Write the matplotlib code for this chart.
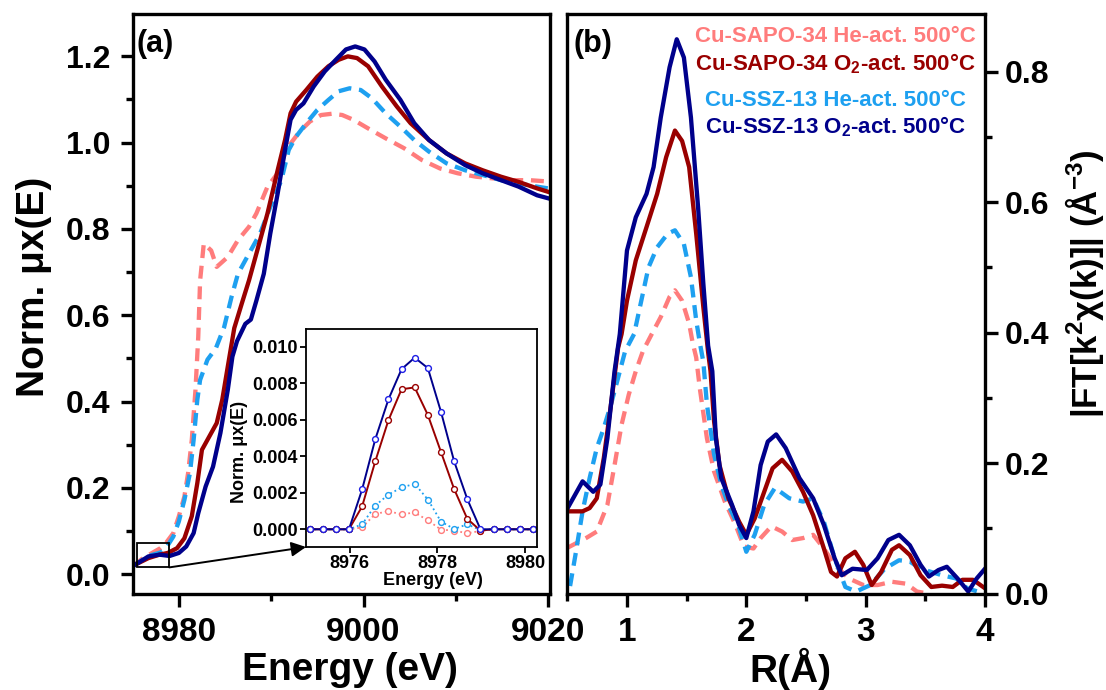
import matplotlib
matplotlib.use("Agg")
import matplotlib.pyplot as plt
from matplotlib.patches import Rectangle
from matplotlib.ticker import MultipleLocator, FormatStrFormatter

plt.rcParams['font.family'] = ['Liberation Sans', 'DejaVu Sans']
plt.rcParams['font.weight'] = 'bold'
plt.rcParams['axes.labelweight'] = 'bold'
plt.rcParams['mathtext.fontset'] = 'custom'
plt.rcParams['mathtext.rm'] = 'Liberation Sans:bold'
plt.rcParams['mathtext.bf'] = 'Liberation Sans:bold'
plt.rcParams['mathtext.default'] = 'rm'

# colours of the four samples
c_sapo_he = '#FF7C7C'
c_sapo_o2 = '#990000'
c_ssz_he = '#1EA0F0'
c_ssz_o2 = '#00008B'

labels = ['Cu-SAPO-34 He-act. 500°C', 'Cu-SAPO-34 O$_2$-act. 500°C',
          'Cu-SSZ-13 He-act. 500°C', 'Cu-SSZ-13 O$_2$-act. 500°C']

# ---- (a) XANES ----
e_sapo_he = [8975.0, 8976.0, 8977.1, 8978.0, 8978.6, 8979.4, 8980.0, 8980.6, 8981.0, 8981.4,
             8981.8, 8982.1, 8982.3, 8982.7, 8983.5, 8984.1, 8985.3, 8986.4, 8987.6, 8988.4,
             8989.6, 8990.7, 8991.5, 8992.1, 8993.1, 8994.2, 8995.4, 8996.6, 8997.7, 8998.9,
             9000.5, 9002.4, 9004.4, 9006.3, 9008.3, 9010.2, 9012.2, 9014.1, 9016.1, 9018.0, 9020.0]
mu_sapo_he = [0.018, 0.035, 0.049, 0.060, 0.072, 0.095, 0.134, 0.180, 0.234, 0.311,
              0.427, 0.550, 0.680, 0.766, 0.750, 0.712, 0.735, 0.774, 0.805, 0.836,
              0.898, 0.929, 0.975, 0.998, 1.026, 1.049, 1.064, 1.067, 1.064, 1.053,
              1.033, 1.010, 0.987, 0.960, 0.940, 0.929, 0.921, 0.917, 0.913, 0.913, 0.910]

e_ssz_he = [8975.0, 8976.0, 8977.0, 8978.0, 8978.6, 8979.4, 8980.0, 8980.6, 8981.2, 8981.6,
            8982.0, 8982.3, 8983.1, 8984.0, 8984.9, 8985.7, 8986.4, 8987.6, 8988.8, 8989.9,
            8991.1, 8991.9, 8992.7, 8993.8, 8995.0, 8996.2, 8997.3, 8998.5, 8999.7, 9000.9,
            9002.4, 9004.0, 9005.5, 9007.1, 9009.0, 9011.0, 9012.9, 9014.9, 9016.8, 9018.8, 9020.0]
mu_ssz_he = [0.018, 0.032, 0.044, 0.050, 0.060, 0.087, 0.122, 0.172, 0.234, 0.311,
             0.404, 0.450, 0.497, 0.523, 0.572, 0.642, 0.696, 0.743, 0.789, 0.851,
             0.913, 0.983, 1.014, 1.045, 1.076, 1.099, 1.119, 1.126, 1.122, 1.103,
             1.068, 1.037, 1.006, 0.979, 0.952, 0.936, 0.925, 0.913, 0.905, 0.898, 0.894]

e_sapo_o2 = [8975.0, 8976.7, 8977.9, 8978.8, 8979.8, 8980.6, 8981.4, 8982.0, 8982.5, 8983.3,
             8984.1, 8984.7, 8985.3, 8986.0, 8986.8, 8987.6, 8988.4, 8989.6, 8990.7, 8991.5,
             8992.1, 8992.7, 8993.8, 8995.0, 8996.2, 8997.3, 8998.3, 8999.3, 9000.5, 9002.0,
             9003.6, 9005.1, 9007.1, 9009.0, 9011.0, 9012.9, 9014.9, 9016.8, 9018.8, 9020.0]
mu_sapo_o2 = [0.019, 0.037, 0.045, 0.049, 0.060, 0.083, 0.134, 0.211, 0.288, 0.319,
              0.350, 0.404, 0.481, 0.570, 0.626, 0.681, 0.743, 0.836, 0.936, 1.006,
              1.068, 1.095, 1.122, 1.153, 1.177, 1.192, 1.200, 1.196, 1.177, 1.130,
              1.084, 1.045, 1.006, 0.975, 0.952, 0.936, 0.921, 0.909, 0.894, 0.886]

e_ssz_o2 = [8975.0, 8976.7, 8977.9, 8979.0, 8980.0, 8980.8, 8981.6, 8982.1, 8982.9, 8983.7,
            8984.5, 8985.3, 8985.8, 8986.3, 8987.2, 8987.8, 8988.4, 8989.2, 8989.9, 8990.7,
            8991.5, 8992.1, 8992.7, 8993.5, 8994.6, 8995.8, 8997.0, 8998.1, 8999.1, 9000.1,
            9001.2, 9002.4, 9004.0, 9005.5, 9007.1, 9009.0, 9011.0, 9012.9, 9014.9, 9016.8,
            9018.8, 9020.0]
mu_ssz_o2 = [0.018, 0.041, 0.045, 0.042, 0.049, 0.064, 0.095, 0.141, 0.203, 0.249,
             0.327, 0.427, 0.504, 0.540, 0.580, 0.590, 0.634, 0.696, 0.789, 0.882,
             0.983, 1.053, 1.076, 1.091, 1.130, 1.165, 1.192, 1.216, 1.223, 1.216,
             1.188, 1.146, 1.099, 1.045, 1.006, 0.975, 0.948, 0.929, 0.913, 0.898,
             0.878, 0.871]

# ---- inset: pre-edge region ----
e_pre = [8975.08, 8975.38, 8975.68, 8975.98, 8976.28, 8976.58, 8976.88, 8977.18, 8977.48,
         8977.78, 8978.08, 8978.38, 8978.68, 8978.98, 8979.28, 8979.58, 8979.88, 8980.18]
pre_sapo_he = [0, 0, 0, 0, 0.00010, 0.00084, 0.00099, 0.00082, 0.00092,
               0.00049, -0.00002, -0.00007, -0.00022, -0.00009, 0, 0, 0, 0]
pre_ssz_he = [0, 0, 0, 0, 0.00027, 0.00130, 0.00190, 0.00229, 0.00249,
              0.00163, 0.00042, 0.00002, 0.00027, -0.00004, 0, 0, 0, 0]
pre_sapo_o2 = [0, 0, 0, 0, 0.00125, 0.00372, 0.00597, 0.00767, 0.00777,
               0.00626, 0.00423, 0.00220, 0.00057, -0.00007, 0, 0, 0, 0]
pre_ssz_o2 = [0, 0, 0, 0, 0.00218, 0.00493, 0.00711, 0.00877, 0.00940,
              0.00883, 0.00643, 0.00372, 0.00165, 0, 0, 0, 0, 0]

# ---- (b) FT-EXAFS ----
r_sapo_he = [0.50, 0.657, 0.747, 0.836, 0.896, 0.955, 1.015, 1.074, 1.134, 1.208,
             1.283, 1.357, 1.402, 1.462, 1.521, 1.55, 1.58, 1.61, 1.67, 1.73,
             1.82, 1.91, 1.98, 2.06, 2.12, 2.21, 2.30, 2.385, 2.475, 2.56,
             2.65, 2.74, 2.86, 2.98, 3.10, 3.22, 3.34, 3.43, 3.52, 3.60]
ft_sapo_he = [0.070, 0.085, 0.095, 0.136, 0.197, 0.259, 0.305, 0.341, 0.372, 0.398,
              0.424, 0.455, 0.465, 0.449, 0.414, 0.385, 0.362, 0.315, 0.238, 0.187,
              0.141, 0.105, 0.072, 0.069, 0.085, 0.103, 0.095, 0.082, 0.085, 0.090,
              0.069, 0.044, 0.023, 0.013, 0.013, 0.018, 0.015, 0.003, 0.0, -0.010]

r_ssz_he = [0.50, 0.52, 0.568, 0.628, 0.687, 0.747, 0.806, 0.866, 0.926, 0.985,
            1.06, 1.12, 1.18, 1.253, 1.342, 1.402, 1.477, 1.536, 1.58, 1.61,
            1.64, 1.67, 1.73, 1.79, 1.85, 1.94, 2.0, 2.07, 2.15, 2.24,
            2.36, 2.475, 2.56, 2.65, 2.74, 2.83, 2.92, 3.04, 3.16, 3.28,
            3.37, 3.46, 3.55, 3.64, 3.76, 3.85, 3.94, 4.0]
ft_ssz_he = [-0.020, 0.008, 0.059, 0.126, 0.177, 0.223, 0.254, 0.290, 0.331, 0.372,
             0.398, 0.449, 0.500, 0.531, 0.552, 0.557, 0.536, 0.485, 0.419, 0.385,
             0.355, 0.290, 0.213, 0.167, 0.136, 0.100, 0.064, 0.090, 0.136, 0.162,
             0.146, 0.141, 0.146, 0.110, 0.054, 0.010, 0.003, 0.013, 0.038, 0.051,
             0.049, 0.038, 0.033, 0.028, 0.023, 0.008, 0.003, 0.005]

r_sapo_o2 = [0.50, 0.628, 0.687, 0.747, 0.806, 0.866, 0.926, 0.955, 1.0, 1.074,
             1.164, 1.253, 1.328, 1.402, 1.462, 1.521, 1.58, 1.64, 1.68, 1.70,
             1.73, 1.775, 1.85, 1.94, 2.0, 2.07, 2.15, 2.22, 2.30, 2.385,
             2.475, 2.56, 2.65, 2.71, 2.76, 2.83, 2.91, 2.98, 3.05, 3.13,
             3.22, 3.28, 3.37, 3.46, 3.55, 3.64, 3.73, 3.81, 3.90, 4.0]
ft_sapo_o2 = [0.126, 0.126, 0.131, 0.146, 0.208, 0.290, 0.377, 0.398, 0.449, 0.511,
              0.562, 0.613, 0.669, 0.710, 0.694, 0.654, 0.552, 0.439, 0.370, 0.341,
              0.264, 0.197, 0.146, 0.110, 0.090, 0.115, 0.156, 0.192, 0.205, 0.187,
              0.156, 0.120, 0.069, 0.033, 0.026, 0.054, 0.064, 0.044, 0.013, 0.033,
              0.067, 0.074, 0.059, 0.028, 0.010, 0.012, 0.010, 0.021, 0.021, 0.008]

r_ssz_o2 = [0.50, 0.628, 0.717, 0.777, 0.836, 0.896, 0.94, 1.0, 1.074, 1.164,
            1.223, 1.283, 1.357, 1.417, 1.477, 1.536, 1.596, 1.64, 1.68, 1.715,
            1.745, 1.79, 1.88, 1.94, 2.0, 2.06, 2.12, 2.18, 2.25, 2.33,
            2.445, 2.56, 2.65, 2.74, 2.80, 2.89, 3.01, 3.10, 3.19, 3.28,
            3.37, 3.46, 3.53, 3.61, 3.68, 3.77, 3.86, 3.93, 4.0]
ft_ssz_o2 = [0.130, 0.172, 0.156, 0.167, 0.238, 0.341, 0.398, 0.526, 0.577, 0.613,
             0.654, 0.730, 0.807, 0.850, 0.822, 0.730, 0.592, 0.475, 0.380, 0.341,
             0.238, 0.177, 0.136, 0.105, 0.085, 0.126, 0.197, 0.233, 0.244, 0.223,
             0.177, 0.146, 0.105, 0.054, 0.028, 0.038, 0.036, 0.054, 0.082, 0.090,
             0.074, 0.044, 0.026, 0.036, 0.041, 0.023, 0.003, 0.023, 0.038]

W, H = 1106, 690
fig = plt.figure(figsize=(W / 100, H / 100), dpi=100)

def frac(x0, y0, x1, y1):
    # pixel box -> figure fraction
    return [x0 / W, 1 - y1 / H, (x1 - x0) / W, (y1 - y0) / H]

axa = fig.add_axes(frac(132.7, 14.5, 550, 593.5))
axb = fig.add_axes(frac(567.3, 14.5, 985, 593.5))
axi = fig.add_axes(frac(306, 329, 537, 547))

dash = (0, (3, 1.8))
lw = 3.1

def style(ax, labelsize):
    for s in ax.spines.values():
        s.set_linewidth(2.4)
    ax.tick_params(which='major', direction='out', length=9, width=2.4, labelsize=labelsize)
    ax.tick_params(which='minor', direction='out', length=5, width=2.4)

# ---------- panel (a) ----------
axa.plot(e_sapo_he, mu_sapo_he, color=c_sapo_he, lw=lw, ls=dash)
axa.plot(e_ssz_he, mu_ssz_he, color=c_ssz_he, lw=lw, ls=dash)
axa.plot(e_sapo_o2, mu_sapo_o2, color=c_sapo_o2, lw=lw)
axa.plot(e_ssz_o2, mu_ssz_o2, color=c_ssz_o2, lw=lw)
axa.set_xlim(8975, 9020.2)
axa.set_ylim(-0.045, 1.297)
axa.xaxis.set_major_locator(MultipleLocator(20))
axa.xaxis.set_minor_locator(MultipleLocator(10))
axa.yaxis.set_major_locator(MultipleLocator(0.2))
axa.yaxis.set_minor_locator(MultipleLocator(0.1))
axa.yaxis.set_major_formatter(FormatStrFormatter('%.1f'))
style(axa, 23)
axa.tick_params(axis='x', labelsize=24, pad=8)
axa.tick_params(axis='y', pad=7)
axa.text(0.01, 0.975, '(a)', transform=axa.transAxes, fontsize=22, va='top', ha='left')

axa.add_patch(Rectangle((8975.43, 0.0155), 3.53, 0.057, fill=False, ec='black', lw=1.3, zorder=5))
axa.annotate('', xy=(0, 0), xycoords=axi.transAxes, xytext=(8978.96, 0.0155), textcoords='data',
             arrowprops=dict(arrowstyle='-|>', color='black', lw=1.4, mutation_scale=22,
                             shrinkA=0, shrinkB=0), zorder=6)

fig.text(34 / W, 1 - 287 / H, 'Norm. μx(E)', rotation=90, fontsize=28, ha='center', va='center')
fig.text(350 / W, 1 - 680 / H, 'Energy (eV)', fontsize=28, ha='center', va='baseline')

# ---------- inset ----------
axi.plot(e_pre, pre_sapo_he, color=c_sapo_he, lw=1.3, ls=':', marker='o', ms=4.2, mfc='white', mew=1)
axi.plot(e_pre, pre_ssz_he, color=c_ssz_he, lw=1.3, ls=':', marker='o', ms=4.2, mfc='white', mew=1)
axi.plot(e_pre, pre_sapo_o2, color=c_sapo_o2, lw=1.4, marker='o', ms=4.2, mfc='white', mew=1)
axi.plot(e_pre, pre_ssz_o2, color=c_ssz_o2, lw=1.4, marker='o', ms=4.2, mfc='white', mew=1,
         mec='#1E1EE6')
axi.set_xlim(8975.0, 8980.27)
axi.set_ylim(-0.00097, 0.01097)
axi.xaxis.set_major_locator(MultipleLocator(2))
axi.yaxis.set_major_locator(MultipleLocator(0.002))
axi.yaxis.set_major_formatter(FormatStrFormatter('%.3f'))
for s in axi.spines.values():
    s.set_linewidth(1.3)
axi.tick_params(direction='out', length=4, width=1.3, labelsize=13, pad=2)
fig.text(239 / W, 1 - 452 / H, 'Norm. μx(E)', rotation=90, fontsize=13, ha='center', va='center')
fig.text(433 / W, 1 - 585 / H, 'Energy (eV)', fontsize=13, ha='center', va='baseline')

# ---------- panel (b) ----------
axb.plot(r_sapo_he, ft_sapo_he, color=c_sapo_he, lw=lw, ls=dash)
axb.plot(r_ssz_he, ft_ssz_he, color=c_ssz_he, lw=lw, ls=dash)
axb.plot(r_sapo_o2, ft_sapo_o2, color=c_sapo_o2, lw=lw)
axb.plot(r_ssz_o2, ft_ssz_o2, color=c_ssz_o2, lw=lw)
axb.set_xlim(0.5, 4.0)
axb.set_ylim(0, 0.888)
axb.xaxis.set_major_locator(MultipleLocator(1))
axb.xaxis.set_minor_locator(MultipleLocator(0.5))
axb.yaxis.set_major_locator(MultipleLocator(0.2))
axb.yaxis.set_minor_locator(MultipleLocator(0.1))
axb.yaxis.set_major_formatter(FormatStrFormatter('%.1f'))
axb.yaxis.tick_right()
style(axb, 23)
axb.tick_params(axis='x', labelsize=24, pad=8)
axb.tick_params(axis='y', pad=5)
axb.text(0.014, 0.975, '(b)', transform=axb.transAxes, fontsize=22, va='top', ha='left')

for txt, col, yb in zip(labels, [c_sapo_he, c_sapo_o2, c_ssz_he, c_ssz_o2], [42, 70, 106, 133]):
    axb.text(0.641, 1 - (yb - 14.5) / 579, txt, color=col, fontsize=16, ha='center',
             va='baseline', transform=axb.transAxes)

fig.text(790 / W, 1 - 682 / H, 'R(Å)', fontsize=28, ha='center', va='baseline')
fig.text(1084 / W, 1 - 284 / H, '|FT[k$^2$χ(k)]| (Å$^{-3}$)', rotation=90, fontsize=25,
         ha='center', va='center')

fig.savefig('out.png', dpi=100)
